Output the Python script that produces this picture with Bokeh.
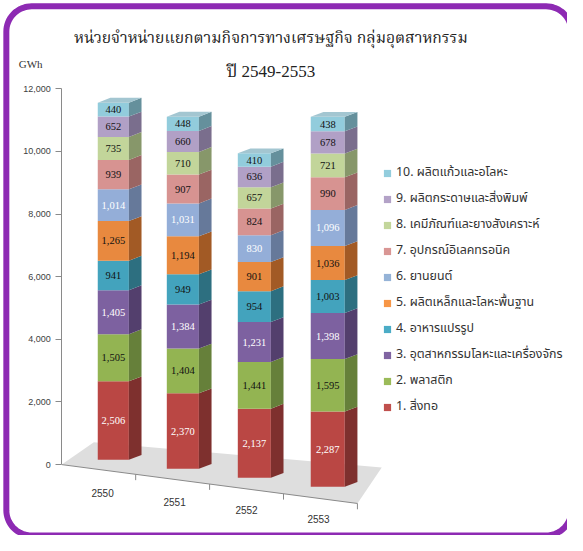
import numpy as np
from bokeh.plotting import figure
from bokeh.models import Range1d, LinearAxis, FixedTicker, NumeralTickFormatter, Legend, LegendItem
from bokeh.core.properties import value
from bokeh.embed import file_html
from bokeh.resources import INLINE

# ---------------- data ----------------
years = ["2550", "2551", "2552", "2553"]
series_names = [
    "1. สิ่งทอ",
    "2. พลาสติก",
    "3. อุตสาหกรรมโลหะและเครื่องจักร",
    "4. อาหารแปรรูป",
    "5. ผลิตเหล็กและโลหะพื้นฐาน",
    "6. ยานยนต์",
    "7. อุปกรณ์อิเลคทรอนิค",
    "8. เคมีภัณฑ์และยางสังเคราะห์",
    "9. ผลิตกระดาษและสิ่งพิมพ์",
    "10. ผลิตแก้วและอโลหะ",
]
s1 = [2506, 2370, 2137, 2287]
s2 = [1505, 1404, 1441, 1595]
s3 = [1405, 1384, 1231, 1398]
s4 = [941, 949, 954, 1003]
s5 = [1265, 1194, 901, 1036]
s6 = [1014, 1031, 830, 1096]
s7 = [939, 907, 824, 990]
s8 = [735, 710, 657, 721]
s9 = [652, 660, 636, 678]
s10 = [440, 448, 410, 438]
y_ticks = [0, 2000, 4000, 6000, 8000, 10000, 12000]
title_line1 = "หน่วยจำหน่ายแยกตามกิจการทางเศรษฐกิจ กลุ่มอุตสาหกรรม"
title_line2 = "ปี 2549-2553"
unit_label = "GWh"

series_values = [s1, s2, s3, s4, s5, s6, s7, s8, s9, s10]

# ---------------- styles ----------------
front_colors = ["#BA4744", "#93B452", "#7D61A0", "#43A3BD", "#E8893F",
                "#94AED8", "#D79391", "#C2D59A", "#B1A0C6", "#92CCDC"]
side_colors = ["#7E302E", "#66803A", "#533F6D", "#2D6F80", "#A25A25",
               "#66799A", "#9A6563", "#87976A", "#7A6E8D", "#65909C"]
top_color = "#A3C6D1"
label_colors = ["white", "#111111", "white", "#111111", "#111111",
                "white", "#111111", "#111111", "#111111", "#111111"]
legend_colors = ["#C0504D", "#9BBB59", "#8064A2", "#4BACC6", "#F79646",
                 "#95B3D7", "#D99694", "#C3D69B", "#B3A2C7", "#93CDDD"]

W, H = 567, 535          # figure size (fits the window)
RW, RH = 583, 551        # layout designed in reference pixels, scaled into the figure
K = 0.03225              # reference px per GWh on the value axis
Y0 = 478                 # reference y of value 0 on the axis
TITLE_FONT = "Liberation Serif, Noto Serif Thai, Noto Sans Thai, serif"
THAI = "Noto Sans Thai, Tahoma, Noto Sans"

p = figure(width=W, height=H, output_backend="svg", toolbar_location=None,
           x_range=Range1d(0, RW),
           y_range=Range1d(-(RH - Y0) / K, Y0 / K),
           x_axis_type=None, y_axis_type=None, min_border=0)
p.extra_y_ranges = {"px": Range1d(RH, 0)}
p.outline_line_color = None
p.background_fill_color = "white"
p.border_fill_color = "white"

# ---- rounded purple frame ----
L, T, R, B, rad = 6, 6, 587, 551, 26
def arc(cx, cy, a0, a1):
    t = np.linspace(np.radians(a0), np.radians(a1), 18)
    return list(cx + rad * np.cos(t)), list(cy - rad * np.sin(t))
bx, by = [], []
for cx, cy, a0, a1 in [(R - rad, T + rad, 0, 90), (L + rad, T + rad, 90, 180),
                       (L + rad, B - rad, 180, 270), (R - rad, B - rad, 270, 360)]:
    ax_, ay_ = arc(cx, cy, a0, a1)
    bx += ax_; by += ay_
bx.append(bx[0]); by.append(by[0])
p.line(bx, by, line_color="#8D2AB3", line_width=6, y_range_name="px")

# ---- floor ----
fx0, fy0 = 63, 478
slope = 0.1316
fx1 = 367
floor_x = [fx0, 96, 392, fx1]
floor_y = [fy0, 455, 481, fy0 + slope * (fx1 - fx0)]
p.patch(floor_x, floor_y, fill_color="#DEDEDE", line_color=None, y_range_name="px")
p.line([fx0, fx1], [fy0, fy0 + slope * (fx1 - fx0)], line_color="#8A8A8A", line_width=1, y_range_name="px")
tx = [fx0 + 76 * k for k in range(1, 5)]
ty = [fy0 + slope * (x - fx0) for x in tx]
p.segment(x0=tx, y0=ty, x1=tx, y1=[v + 6 for v in ty], line_color="#8A8A8A", y_range_name="px")

# ---- 3D stacked bars ----
DX = 13
DYG = 5 / K
n = len(years)
xl = [100 + 70 * i + i * i for i in range(n)]
bw = [32 + i for i in range(n)]
base = [(Y0 - (473 + 9.3 * i)) / K for i in range(n)]
fac = [1 + 0.017 * i for i in range(n)]

cum = [0.0] * n
legend_items = []
for j, vals in enumerate(series_values):
    lefts, rights, bots, tops = [], [], [], []
    sxs, sys_ = [], []
    tx_, ty_, tt = [], [], []
    for i in range(n):
        y0 = base[i] + fac[i] * cum[i]
        y1 = base[i] + fac[i] * (cum[i] + vals[i])
        cum[i] += vals[i]
        l, r = xl[i], xl[i] + bw[i]
        lefts.append(l); rights.append(r); bots.append(y0); tops.append(y1)
        sxs.append([r, r + DX, r + DX, r]); sys_.append([y0, y0 + DYG, y1 + DYG, y1])
        tx_.append((l + r) / 2); ty_.append((y0 + y1) / 2); tt.append(f"{vals[i]:,}")
    p.quad(left=lefts, right=rights, bottom=bots, top=tops,
           fill_color=front_colors[j], line_color=None)
    p.patches(sxs, sys_, fill_color=side_colors[j], line_color=None)
    p.text(tx_, ty_, text=tt, text_align="center", text_baseline="middle",
           text_font=value("Liberation Serif"), text_font_size="10.5px",
           text_color=label_colors[j])
    # legend-only marker renderer (hidden in the plot, shown in the legend)
    lr = p.scatter(x=tx_, y=ty_, marker="square", fill_color=legend_colors[j],
                   line_color=None, visible=False)
    legend_items.append(LegendItem(label=series_names[j], renderers=[lr]))

# top faces
top_x, top_y = [], []
for i in range(n):
    y1 = base[i] + fac[i] * cum[i]
    l, r = xl[i], xl[i] + bw[i]
    top_x.append([l, l + DX, r + DX, r]); top_y.append([y1, y1 + DYG, y1 + DYG, y1])
p.patches(top_x, top_y, fill_color=top_color, line_color=None)

# ---- value axis ----
yax = LinearAxis(fixed_location=63, bounds=(0, 12000),
                 ticker=FixedTicker(ticks=y_ticks),
                 formatter=NumeralTickFormatter(format="0,0"))
yax.axis_line_color = "#8A8A8A"
yax.major_tick_line_color = "#8A8A8A"
yax.major_tick_out = 6
yax.major_tick_in = 0
yax.minor_tick_line_color = None
yax.major_label_text_font = "Liberation Sans"
yax.major_label_text_font_size = "9px"
yax.major_label_text_color = "#404040"
yax.major_label_standoff = 5
p.add_layout(yax, "left")

# ---- category labels ----
p.text([105 + 74 * i for i in range(n)], [507 + 9 * i for i in range(n)], text=years,
       text_align="center", text_baseline="middle", text_font=value("Liberation Sans"),
       text_font_size="10px", text_color="#333333", y_range_name="px")

# ---- titles ----
p.text([278], [38], text=[title_line1], text_align="center", text_baseline="middle",
       text_font=value(TITLE_FONT), text_font_size="15.7px", text_color="#222222", y_range_name="px")
p.text([278], [73], text=[title_line2], text_align="center", text_baseline="middle",
       text_font=value(TITLE_FONT), text_font_size="17px", text_color="#222222", y_range_name="px")
p.text([31], [65], text=[unit_label], text_align="center", text_baseline="middle",
       text_font=value("Liberation Serif"), text_font_size="11px", text_color="#333333", y_range_name="px")

# ---- legend ----
legend = Legend(items=list(reversed(legend_items)), location=(378, 119),
                glyph_width=18, glyph_height=18, label_height=18, spacing=7,
                label_standoff=0, padding=0, margin=0, click_policy="none",
                border_line_alpha=0, background_fill_alpha=0,
                label_text_font=THAI, label_text_font_size="12.4px",
                label_text_color="#333333")
p.add_layout(legend)

open("out.html", "w").write(file_html(p, INLINE))
